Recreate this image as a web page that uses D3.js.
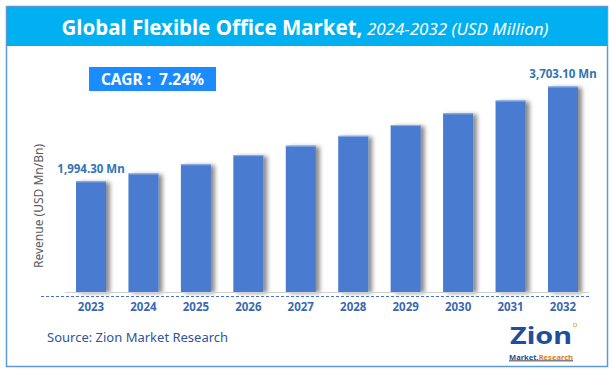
<!DOCTYPE html>
<html>
<head>
<meta charset="utf-8">
<script src="https://cdn.jsdelivr.net/npm/d3@7.9.0/dist/d3.min.js"></script>
<style>
  html, body { margin: 0; padding: 0; background: #fff; }
  svg { display: block; font-family: "Noto Sans", "Open Sans", sans-serif; }
</style>
</head>
<body>
<svg id="chart" width="612" height="373"></svg>
<script>
// data
const years = ["2023", "2024", "2025", "2026", "2027", "2028", "2029", "2030", "2031", "2032"];
const revenue = [1994.3, 2135, 2302, 2466, 2637, 2814, 3008, 3220, 3450, 3703.1];
const valueLabels = ["1,994.30 Mn", "", "", "", "", "", "", "", "", "3,703.10 Mn"];
const cagrText = "CAGR :  7.24%";

const svg = d3.select("#chart");

// shadow behind bars
const defs = svg.append("defs");
const f = defs.append("filter").attr("id", "shadow")
  .attr("x", "-20%").attr("y", "-10%").attr("width", "160%").attr("height", "120%");
f.append("feDropShadow").attr("dx", 4).attr("dy", 1).attr("stdDeviation", 2)
  .attr("flood-color", "#000").attr("flood-opacity", 0.45);

// frame + header
svg.append("rect").attr("x", 6.5).attr("y", 6.5).attr("width", 601).attr("height", 360)
  .attr("fill", "#fff").attr("stroke", "#5b9bd5").attr("stroke-width", 1.5);
svg.append("rect").attr("x", 7).attr("y", 7).attr("width", 600).attr("height", 39)
  .attr("fill", "#00b0f0");

const title = svg.append("text").attr("x", 305).attr("y", 34.5)
  .attr("text-anchor", "middle").attr("fill", "#fff");
title.append("tspan").attr("font-size", 20.5).attr("font-weight", "bold")
  .text("Global Flexible Office Market,");
title.append("tspan").attr("font-size", 17).attr("font-style", "italic")
  .text(" 2024-2032 (USD Million)");

// CAGR box
svg.append("rect").attr("x", 89).attr("y", 67).attr("width", 127).attr("height", 24)
  .attr("fill", "#1a8cff");
svg.append("text").attr("x", 152.5).attr("y", 84.5).attr("text-anchor", "middle")
  .attr("fill", "#fff").attr("font-size", 15.5).attr("font-weight", "bold")
  .style("white-space", "pre").text(cagrText);

// scales
const x = d3.scaleBand().domain(years).range([65, 589]).paddingInner(0.428).paddingOuter(0.21);
const y = d3.scaleLinear().domain([0, 3703.1]).range([292, 86.5]);

// bars
svg.append("g").selectAll("rect").data(revenue).join("rect")
  .attr("x", (d, i) => x(years[i]))
  .attr("y", d => y(d))
  .attr("width", x.bandwidth())
  .attr("height", d => y(0) - y(d))
  .attr("fill", "#4a7bd0")
  .attr("filter", "url(#shadow)");

// bar top highlight
svg.append("g").selectAll("line").data(revenue).join("line")
  .attr("x1", (d, i) => x(years[i])).attr("x2", (d, i) => x(years[i]) + x.bandwidth())
  .attr("y1", d => y(d) + 0.5).attr("y2", d => y(d) + 0.5)
  .attr("stroke", "#8fb0e6").attr("stroke-width", 1);

// axis line + dashed line
svg.append("line").attr("x1", 65).attr("x2", 589).attr("y1", 292.5).attr("y2", 292.5)
  .attr("stroke", "#d0d0d0").attr("stroke-width", 1);
svg.append("line").attr("x1", 41).attr("x2", 590).attr("y1", 296.5).attr("y2", 296.5)
  .attr("stroke", "#4472c4").attr("stroke-width", 1).attr("stroke-dasharray", "3,2");

// x axis labels
const xAxis = d3.axisBottom(x).tickSize(0).tickPadding(0);
const gx = svg.append("g").attr("transform", "translate(0,303)").call(xAxis);
gx.select(".domain").remove();
gx.selectAll("text").attr("font-size", 11.5).attr("font-weight", "bold")
  .attr("fill", "#3a68b0").attr("font-family", "'Noto Sans', sans-serif");

// value labels
svg.append("g").selectAll("text").data(revenue).join("text")
  .attr("x", (d, i) => x(years[i]) + x.bandwidth() / 2)
  .attr("y", d => y(d) - 8.5)
  .attr("text-anchor", "middle")
  .attr("font-size", 11.5).attr("font-weight", "bold").attr("fill", "#2e75b6")
  .text((d, i) => valueLabels[i]);

// y label
svg.append("text").attr("transform", "translate(43,206) rotate(-90)")
  .attr("text-anchor", "middle").attr("font-size", 12).attr("fill", "#595959")
  .text("Revenue (USD Mn/Bn)");

// source
svg.append("text").attr("x", 47).attr("y", 342).attr("font-size", 13)
  .attr("fill", "#2f5597").text("Source: Zion Market Research");

// logo
const logo = svg.append("g");
logo.append("text").attr("x", 510).attr("y", 344)
  .attr("font-size", 24).attr("font-weight", "bold").attr("fill", "#1f4e9a")
  .attr("textLength", 62).attr("lengthAdjust", "spacingAndGlyphs").text("Zion");
logo.append("circle").attr("cx", 575).attr("cy", 325).attr("r", 1.8)
  .attr("fill", "none").attr("stroke", "#e07b1a").attr("stroke-width", 0.6);
const sub = logo.append("text").attr("x", 509).attr("y", 359.5)
  .attr("font-size", 7.5).attr("font-weight", "bold").attr("text-decoration", "underline")
  .attr("textLength", 64).attr("lengthAdjust", "spacingAndGlyphs");
sub.append("tspan").attr("fill", "#1f4e9a").text("Market.");
sub.append("tspan").attr("fill", "#e07b1a").text("Research");
</script>
</body>
</html>
